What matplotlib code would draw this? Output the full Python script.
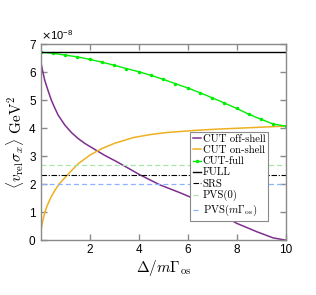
import matplotlib
matplotlib.use("Agg")
import matplotlib.pyplot as plt
import numpy as np

plt.rcParams['mathtext.fontset'] = 'cm'
plt.rcParams['font.family'] = ['Liberation Sans', 'DejaVu Sans']

# values in units of 1e-8 GeV^-2
scale = 1e-8
x_off = [0, 0.08, 0.16, 0.3, 0.43, 0.57, 0.71, 0.98, 1.25, 1.52, 1.8, 2.2, 2.6, 3.1,
         4.05, 4.87, 5.69, 6.23, 7.1, 8.0, 8.82, 9.49, 10]
y_off = [6.37, 6.02, 5.71, 5.33, 5.0, 4.72, 4.46, 4.11, 3.84, 3.63, 3.45, 3.24, 3.03, 2.8,
         2.33, 1.97, 1.69, 1.49, 1.05, 0.6, 0.30, 0.08, 0.0]

x_on = [0, 0.08, 0.16, 0.28, 0.41, 0.58, 0.75, 1.09, 1.52, 2.0, 2.5, 3.0, 3.78,
        4.5, 5.14, 6.37, 7.2, 8.5, 10]
y_on = [0.33, 0.68, 0.98, 1.27, 1.52, 1.78, 2.0, 2.33, 2.72, 3.03, 3.27, 3.45, 3.66,
        3.77, 3.84, 3.92, 3.96, 4.01, 4.07]

x_cut = [0, 0.5, 1, 1.5, 2, 2.5, 3, 3.5, 4, 4.5, 5, 5.5, 6, 6.5, 7, 7.5, 8, 8.5, 9, 9.5, 10]
y_cut = [6.70, 6.67, 6.60, 6.54, 6.45, 6.35, 6.24, 6.12, 6.01, 5.88, 5.74, 5.58, 5.43,
         5.26, 5.08, 4.89, 4.70, 4.49, 4.31, 4.14, 4.07]

full = 6.70
srs = 2.33
pvs0 = 2.68
pvs_m = 1.99

fig = plt.figure(figsize=(3.16, 2.95), dpi=100)
ax = fig.add_axes([0.129, 0.186, 0.775, 0.665])

s = lambda v: np.array(v) * scale
ax.plot(x_off, s(y_off), color='#7E2F8E', lw=1.1, label='CUT off-shell')
ax.plot(x_on, s(y_on), color='#EDB120', lw=1.1, label='CUT on-shell')
ax.plot(x_cut, s(y_cut), color='#00ee00', lw=1.0, marker='.', ms=3, label='CUT-full')
ax.axhline(full * scale, color='black', lw=1.0, label='FULL')
ax.axhline(srs * scale, color='black', lw=0.8, ls=(0, (5, 1.5, 1, 1.5)), label='SRS')
ax.axhline(pvs0 * scale, color='#a8e6a8', lw=0.9, ls=(0, (4, 2.5)), label='PVS(0)')
ax.axhline(pvs_m * scale, color='#88b4ff', lw=0.9, ls=(0, (4, 2.5)), label=r'PVS($m\Gamma_{\rm os}$)')

ax.set_xlim(0, 10)
ax.set_ylim(0, 7e-8)
ax.set_xticks([2, 4, 6, 8, 10])
ax.set_yticks(np.arange(8) * scale)

fmt = matplotlib.ticker.ScalarFormatter(useMathText=True)
fmt.set_powerlimits((0, 0))
ax.yaxis.set_major_formatter(fmt)
ax.yaxis.get_offset_text().set_fontsize(8)
ax.yaxis.get_offset_text().set_math_fontfamily('dejavusans')

gray = '#8a8a8a'
for sp in ax.spines.values():
    sp.set_color(gray)
    sp.set_linewidth(1.0)
ax.tick_params(direction='in', length=4, width=1.0, color=gray, labelsize=8.5,
               top=True, right=True, pad=3)

ax.set_xlabel(r'$\Delta/m\Gamma_{\rm os}$', fontsize=11, labelpad=1)
ax.set_ylabel(r'$\langle v_{\rm rel}\sigma_x\rangle$ GeV$^2$', fontsize=11,
              family='cmr10', labelpad=2)

leg = ax.legend(loc='lower right', bbox_to_anchor=(0.928, 0.097),
                prop={'family': 'cmr10', 'size': 7.7}, fancybox=False,
                framealpha=1, edgecolor=gray, handlelength=0.8,
                handletextpad=0.15, labelspacing=0.15, borderpad=0.25,
                borderaxespad=0)
leg.get_frame().set_linewidth(0.8)

fig.savefig('out.png', dpi=100)
